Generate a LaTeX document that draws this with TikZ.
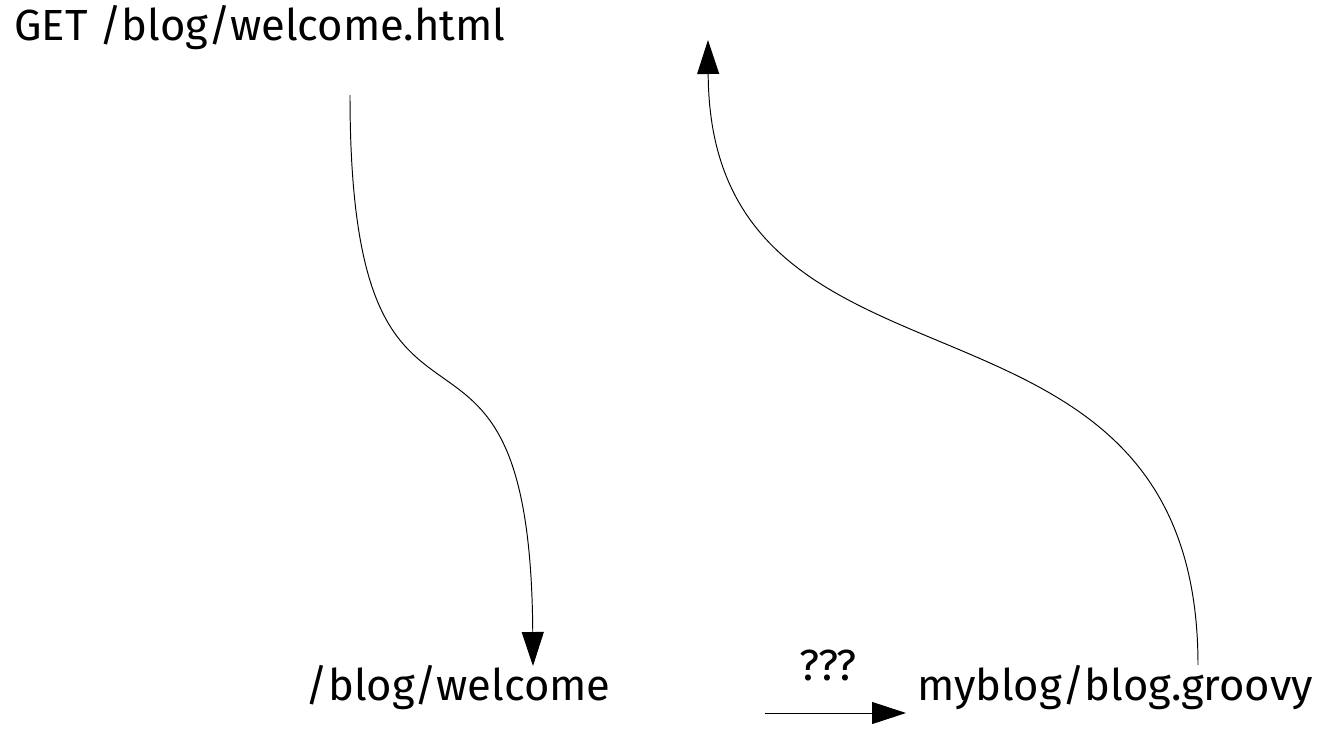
\documentclass[tikz,border=0pt]{standalone}
\usepackage{fontspec}
\setmainfont{Fira Sans}
\usetikzlibrary{arrows.meta}
\tikzset{
  lbl/.style={font=\fontsize{24.8}{30}\selectfont, inner sep=0pt, anchor=base},
  flow/.style={-{Triangle[width=0.44cm,length=0.68cm]}, line width=0.55pt}
}
\begin{document}
\begin{tikzpicture}[x=0.02cm,y=-0.02cm]
\useasboundingbox (0,0) rectangle (1323,741);
% the three labels
\node[lbl, anchor=base west] (get) at (14,40) {GET /blog/welcome.html};
\node[lbl] (welcome) at (458,700) {/blog/welcome};
\node[lbl] (groovy) at (1115,700) {myblog/blog.groovy};
\node[lbl] (qqq) at (828,680) {???};

% free ends of the connectors
\coordinate (in) at (350,95);
\coordinate (intip) at (533,666);
\coordinate (out) at (1198,665);
\coordinate (outtip) at (708,40);
\coordinate (mapa) at (765,713);
\coordinate (mapb) at (906,713);

\draw[flow] (in) .. controls (350,520) and (530,240) .. (intip);
\draw[flow] (out) .. controls (1198,250) and (710,430) .. (outtip);
\draw[flow] (mapa) -- (mapb);
\end{tikzpicture}
\end{document}
